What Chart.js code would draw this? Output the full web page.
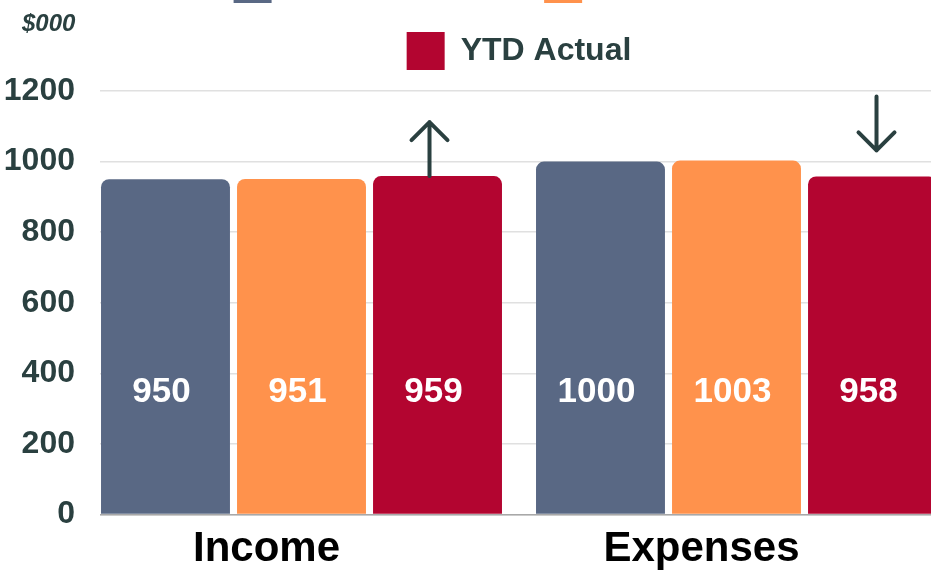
<!DOCTYPE html>
<html>
<head>
<meta charset="utf-8">
<script src="https://cdn.jsdelivr.net/npm/chart.js@4"></script>
<style>
  html, body { margin: 0; padding: 0; background: #fff; overflow: hidden; width: 931px; height: 571px; }
  #wrap { position: absolute; left: 0; top: -64px; width: 954px; height: 653px; }
  #unit { position: absolute; left: 22px; top: 9px; font: italic bold 24px 'Liberation Sans', Arial, sans-serif; color: #2a4040; }
</style>
</head>
<body>
<div id="wrap"><canvas id="chart" width="954" height="653"></canvas></div>
<div id="unit">$000</div>
<script>
const categories = ['Income', 'Expenses'];
const seriesNames = ['Annual Budget', 'YTD Forecast', 'YTD Actual'];
const budget = [950, 1000];
const forecast = [951, 1003];
const actual = [959, 958];
const yTicks = [0, 200, 400, 600, 800, 1000, 1200];

const ink = '#2a4040';
const colors = ['#596884', '#ff924c', '#b30530'];

Chart.defaults.font.family = "'Liberation Sans', Arial, sans-serif";

// push the plot down a bit below the legend
const legendGap = {
	id: 'legendGap',
	beforeLayout(chart) {
		const lg = chart.legend;
		if (lg && !lg._gapPatched) {
			const fit = lg.fit;
			lg.fit = function () { fit.call(this); this.height += 11; };
			lg._gapPatched = true;
		}
	}
};

const barDecor = {
	id: 'barDecor',
	beforeDatasetsDraw(chart) {
		// grid starts at the first bar, not at the axis
		const { ctx, chartArea } = chart;
		const first = chart.getDatasetMeta(0).data[0];
		const edge = first.x - first.width / 2;
		ctx.save();
		ctx.fillStyle = '#fff';
		ctx.fillRect(chartArea.left - 1, chartArea.top - 3, edge - chartArea.left, chartArea.bottom - chartArea.top + 6);
		ctx.restore();
	},
	afterDatasetsDraw(chart) {
		const { ctx } = chart;
		const y = chart.scales.y;
		const labelLevel = 345;
		ctx.save();
		ctx.font = "bold 35px 'Liberation Sans', Arial, sans-serif";
		ctx.fillStyle = '#fff';
		ctx.textAlign = 'center';
		ctx.textBaseline = 'middle';
		chart.data.datasets.forEach((ds, i) => {
			chart.getDatasetMeta(i).data.forEach((bar, j) => {
				ctx.fillText(String(ds.data[j]), bar.x - 4, y.getPixelForValue(labelLevel));
			});
		});

		// arrows: actual vs budget
		const meta = chart.getDatasetMeta(2);
		ctx.strokeStyle = ink;
		ctx.lineWidth = 4;
		ctx.lineCap = 'round';
		ctx.lineJoin = 'round';
		categories.forEach((c, j) => {
			const bar = meta.data[j];
			ctx.beginPath();
			if (actual[j] > budget[j]) {
				const x = bar.x - 8;
				const tip = bar.y - 54;
				ctx.moveTo(x, bar.y);
				ctx.lineTo(x, tip);
				ctx.moveTo(x - 18, tip + 18);
				ctx.lineTo(x, tip);
				ctx.lineTo(x + 18, tip + 18);
			} else {
				const x = bar.x + 4;
				const tip = bar.y - 26;
				ctx.moveTo(x, tip - 54);
				ctx.lineTo(x, tip);
				ctx.moveTo(x - 18, tip - 18);
				ctx.lineTo(x, tip);
				ctx.lineTo(x + 18, tip - 18);
			}
			ctx.stroke();
		});
		ctx.restore();
	}
};

const ctx = document.getElementById('chart').getContext('2d');
new Chart(ctx, {
	type: 'bar',
	data: {
		labels: categories,
		datasets: [
			{ label: seriesNames[0], data: budget, backgroundColor: colors[0], borderRadius: 8 },
			{ label: seriesNames[1], data: forecast, backgroundColor: colors[1], borderRadius: 8 },
			{ label: seriesNames[2], data: actual, backgroundColor: colors[2], borderRadius: 8 },
		],
	},
	options: {
		responsive: false,
		animation: false,
		layout: { padding: { left: 4, right: 0, top: 0, bottom: 4 } },
		datasets: { bar: { categoryPercentage: 0.938, barPercentage: 0.948 } },
		plugins: {
			legend: {
				position: 'top',
				fullSize: false,
				labels: {
					boxWidth: 38, boxHeight: 38, padding: 29, color: ink,
					font: { size: 32, weight: 'bold' },
				},
			},
			tooltip: { enabled: false },
		},
		scales: {
			x: {
				grid: { drawOnChartArea: false, drawTicks: false },
				border: { color: '#a8a8a8', width: 1.5 },
				ticks: { color: '#000', padding: 10, labelOffset: -35, font: { size: 42, weight: 'bold' } },
			},
			y: {
				min: yTicks[0],
				max: yTicks[yTicks.length - 1],
				afterBuildTicks(s) { s.ticks = yTicks.map(v => ({ value: v })); },
				afterFit(s) { s.width = 80; },
				grid: { color: '#e0e0e0', lineWidth: 1.5, drawTicks: false },
				border: { display: false },
				ticks: { color: ink, padding: 9, font: { size: 32, weight: 'bold' }, callback: v => String(v) },
			},
		},
	},
	plugins: [legendGap, barDecor],
});
</script>
</body>
</html>
